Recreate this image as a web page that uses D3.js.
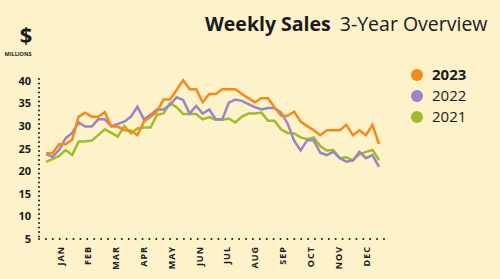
<!DOCTYPE html>
<html lang="en">
<head>
    <meta charset="UTF-8">
    <title>Weekly Sales 3-Year Overview</title>
    <script src="https://d3js.org/d3.v7.min.js"></script>
    <style>
        body {
            margin: 0;
            background-color: #fef2cb;
            font-family: "Open Sans", "Noto Sans", sans-serif;
        }
        svg {
            display: block;
        }
        .tick-label {
            font-size: 11px;
            font-weight: 700;
            fill: #1a1a1a;
        }
        .month-label {
            font-size: 9px;
            font-weight: 700;
            letter-spacing: 1px;
            fill: #1a1a1a;
        }
        .series {
            fill: none;
            stroke-width: 2.5px;
            stroke-linejoin: miter;
        }
    </style>
</head>
<body>
    <svg width="500" height="279"></svg>
    <script>
        const months = ["JAN", "FEB", "MAR", "APR", "MAY", "JUN", "JUL", "AUG", "SEP", "OCT", "NOV", "DEC"];
        const yTicks = [5, 10, 15, 20, 25, 30, 35, 40];

        const sales2023 = [24.0, 24.0, 26.0, 26.0, 27.0, 32.1, 33.0, 32.1, 32.1, 33.1,
            29.9, 29.9, 29.1, 29.0, 28.0, 31.0, 32.1, 33.2, 35.9, 35.9,
            38.0, 40.2, 38.2, 38.2, 35.3, 37.1, 37.1, 38.2, 38.2, 38.2,
            37.1, 36.2, 35.3, 36.2, 36.2, 34.2, 32.3, 32.3, 33.2, 31.0,
            30.0, 29.1, 28.0, 29.1, 29.1, 29.1, 30.3, 28.0, 29.1, 28.0,
            30.3, 26.0];
        const sales2022 = [23.8, 23.2, 24.7, 27.3, 28.5, 30.8, 29.9, 29.9, 31.5, 31.5,
            30.0, 30.5, 31.0, 32.1, 34.3, 31.5, 32.5, 33.7, 33.7, 34.7,
            36.4, 35.8, 32.8, 34.5, 32.8, 33.7, 31.5, 31.5, 35.2, 35.9,
            35.6, 34.9, 34.2, 33.7, 34.0, 34.0, 33.0, 30.6, 26.8, 24.6,
            26.9, 26.9, 24.1, 23.6, 24.3, 22.9, 22.1, 22.4, 24.3, 22.9,
            23.6, 21.0];
        const sales2021 = [22.1, 22.7, 23.4, 24.7, 23.6, 26.6, 26.6, 26.8, 28.0, 29.3,
            28.5, 27.7, 30.0, 28.4, 29.5, 29.7, 29.7, 32.5, 32.8, 35.1,
            34.2, 32.7, 32.7, 32.7, 31.5, 32.0, 31.4, 31.4, 31.7, 30.8,
            32.1, 32.8, 32.8, 33.0, 31.2, 31.2, 29.3, 28.5, 28.4, 27.5,
            27.1, 27.5, 25.6, 24.6, 24.7, 22.9, 23.1, 22.4, 23.8, 24.3,
            24.7, 22.5];

        const seriesList = [
            { name: "2023", values: sales2023, color: "#f5891a", bold: true },
            { name: "2022", values: sales2022, color: "#9a84c8", bold: false },
            { name: "2021", values: sales2021, color: "#9fbd2a", bold: false }
        ];

        const svg = d3.select("svg");

        const x = d3.scaleLinear().domain([0, sales2023.length - 1]).range([46, 379]);
        const xMonth = d3.scalePoint().domain(months).range([60, 366]);
        const y = d3.scaleLinear().domain([5, 40]).range([239, 81]);

        // title
        const title = svg.append("text")
            .attr("x", 205)
            .attr("y", 31)
            .attr("fill", "#1a1a1a")
            .style("font-size", "19.5px");
        title.append("tspan").attr("font-weight", 700).text("Weekly Sales");
        title.append("tspan").attr("dx", 9).attr("font-weight", 400).text("3-Year Overview");

        // unit label
        svg.append("text")
            .attr("x", 26).attr("y", 43)
            .attr("text-anchor", "middle")
            .attr("font-weight", 700)
            .style("font-size", "22px")
            .attr("fill", "#1a1a1a")
            .text("$");
        svg.append("text")
            .attr("x", 18).attr("y", 56)
            .attr("text-anchor", "middle")
            .attr("font-weight", 700)
            .style("font-size", "5.5px")
            .attr("fill", "#1a1a1a")
            .text("MILLIONS");

        // dotted axes
        svg.append("line")
            .attr("x1", 39).attr("x2", 39)
            .attr("y1", y(40) - 2).attr("y2", y(5))
            .attr("stroke", "#1a1a1a")
            .attr("stroke-width", 2)
            .attr("stroke-linecap", "round")
            .attr("stroke-dasharray", "0,4.5");
        svg.append("line")
            .attr("x1", 39).attr("x2", 387)
            .attr("y1", y(5)).attr("y2", y(5))
            .attr("stroke", "#1a1a1a")
            .attr("stroke-width", 2)
            .attr("stroke-linecap", "round")
            .attr("stroke-dasharray", "0,6.9");

        svg.append("g")
            .selectAll("text")
            .data(yTicks)
            .enter().append("text")
            .attr("class", "tick-label")
            .attr("x", 31)
            .attr("y", d => y(d))
            .attr("dy", "0.35em")
            .attr("text-anchor", "end")
            .text(d => d);

        svg.append("g")
            .selectAll("text")
            .data(months)
            .enter().append("text")
            .attr("class", "month-label")
            .attr("transform", d => `translate(${xMonth(d) + 3.5},246) rotate(-90)`)
            .attr("text-anchor", "end")
            .text(d => d);

        // lines, 2021 at the back
        const line = d3.line()
            .x((d, i) => x(i))
            .y(d => y(d));

        svg.append("g")
            .selectAll("path")
            .data(seriesList.slice().reverse())
            .enter().append("path")
            .attr("class", "series")
            .attr("stroke", d => d.color)
            .attr("d", d => line(d.values));

        // legend
        const legend = svg.append("g")
            .selectAll("g")
            .data(seriesList)
            .enter().append("g")
            .attr("transform", (d, i) => `translate(417,${75 + i * 21})`);
        legend.append("circle")
            .attr("r", 6)
            .attr("fill", d => d.color);
        legend.append("text")
            .attr("x", 15)
            .attr("dy", "0.35em")
            .attr("fill", "#1a1a1a")
            .attr("font-weight", d => d.bold ? 700 : 400)
            .style("font-size", "15px")
            .text(d => d.name);
    </script>
</body>
</html>
